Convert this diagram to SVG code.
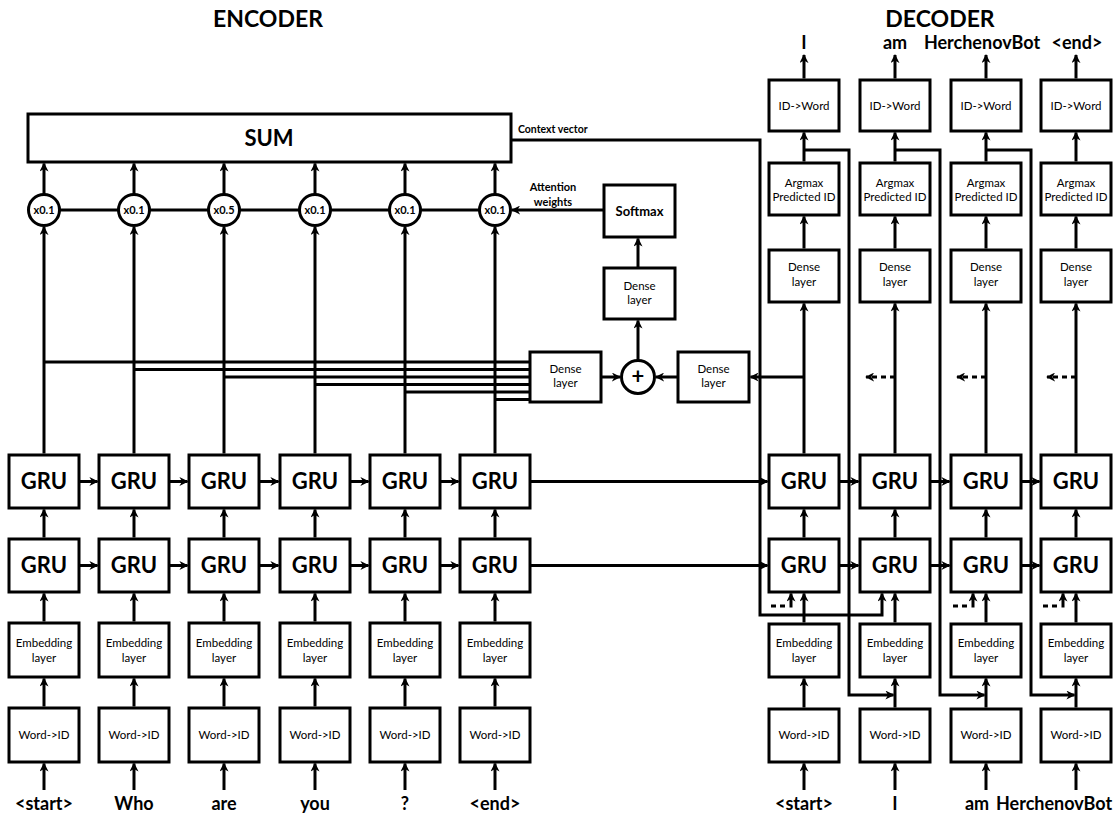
<svg xmlns="http://www.w3.org/2000/svg" width="1120" height="840" viewBox="0 0 1120 840">
<defs>
<marker id="ah" viewBox="0 0 10 10" refX="9" refY="5" markerWidth="9" markerHeight="9" markerUnits="userSpaceOnUse" orient="auto">
<path d="M0,0 L10,5 L0,10 L3,5 z" fill="#000"/>
</marker>
<style>
.b{fill:#fff;stroke:#000;stroke-width:3}
.c{fill:none;stroke:#000;stroke-width:3}
.a{fill:none;stroke:#000;stroke-width:3;marker-end:url(#ah)}
.d{fill:none;stroke:#000;stroke-width:3;stroke-dasharray:5 4}
.da{fill:none;stroke:#000;stroke-width:3;stroke-dasharray:5 4;marker-end:url(#ah)}
text{font-family:Lato,"Liberation Sans",sans-serif;fill:#000;text-anchor:middle}
.g{font-size:22px;font-weight:bold}
.s{font-size:11.5px}
.w{font-size:18px;font-weight:bold}
.t{font-size:23px;font-weight:bold}
.x{font-size:11px;font-weight:bold}
</style>
</defs>
<rect width="1120" height="840" fill="#fff"/>
<text class="t" x="268" y="27">ENCODER</text>
<text class="t" x="940" y="27">DECODER</text>

<g id="connectors">
<!-- attention lines -->
<path class="c" d="M44,362 H530 M134,369.5 H530 M224,377 H530 M315,384.5 H530 M405,392 H530 M495,399.5 H530"/>
<path class="c" d="M44,210 H495"/>
<!-- encoder verticals -->
<path class="a" d="M44,790 V763.5"/><path class="a" d="M134,790 V763.5"/><path class="a" d="M224,790 V763.5"/><path class="a" d="M315,790 V763.5"/><path class="a" d="M405,790 V763.5"/><path class="a" d="M495,790 V763.5"/>
<path class="a" d="M44,706.5 V678.5"/><path class="a" d="M134,706.5 V678.5"/><path class="a" d="M224,706.5 V678.5"/><path class="a" d="M315,706.5 V678.5"/><path class="a" d="M405,706.5 V678.5"/><path class="a" d="M495,706.5 V678.5"/>
<path class="a" d="M44,621.5 V593.5"/><path class="a" d="M134,621.5 V593.5"/><path class="a" d="M224,621.5 V593.5"/><path class="a" d="M315,621.5 V593.5"/><path class="a" d="M405,621.5 V593.5"/><path class="a" d="M495,621.5 V593.5"/>
<path class="a" d="M44,537.5 V509.5"/><path class="a" d="M134,537.5 V509.5"/><path class="a" d="M224,537.5 V509.5"/><path class="a" d="M315,537.5 V509.5"/><path class="a" d="M405,537.5 V509.5"/><path class="a" d="M495,537.5 V509.5"/>
<path class="a" d="M44,453.5 V227"/><path class="a" d="M134,453.5 V227"/><path class="a" d="M224,453.5 V227"/><path class="a" d="M315,453.5 V227"/><path class="a" d="M405,453.5 V227"/><path class="a" d="M495,453.5 V227"/>
<path class="a" d="M44,194 V163.5"/><path class="a" d="M134,194 V163.5"/><path class="a" d="M224,194 V163.5"/><path class="a" d="M315,194 V163.5"/><path class="a" d="M405,194 V163.5"/><path class="a" d="M495,194 V163.5"/>
<!-- encoder horizontals -->
<path class="a" d="M79,481.5 H97.5"/><path class="a" d="M169,481.5 H187.5"/><path class="a" d="M259,481.5 H278.5"/><path class="a" d="M350,481.5 H368.5"/><path class="a" d="M440,481.5 H458.5"/>
<path class="a" d="M79,565.5 H97.5"/><path class="a" d="M169,565.5 H187.5"/><path class="a" d="M259,565.5 H278.5"/><path class="a" d="M350,565.5 H368.5"/><path class="a" d="M440,565.5 H458.5"/>
<path class="a" d="M530,481.5 H767.5"/><path class="a" d="M530,565.5 H767.5"/>
<!-- decoder horizontals -->
<path class="a" d="M839,481.5 H858.5"/><path class="a" d="M930,481.5 H949.5"/><path class="a" d="M1021,481.5 H1039.5"/>
<path class="a" d="M839,565.5 H858.5"/><path class="a" d="M930,565.5 H949.5"/><path class="a" d="M1021,565.5 H1039.5"/>
<!-- attention block -->
<path class="a" d="M601,377 H620"/>
<path class="a" d="M678,377 H656"/>
<path class="a" d="M638,360 V320.5"/>
<path class="a" d="M638,268 V238.5"/>
<path class="a" d="M604,210 H512"/>
<path class="a" d="M804,377 H750.5"/>
<!-- context vector -->
<path class="a" d="M511,140 H760 V615 H882 V593.5"/>
<!-- decoder verticals -->
<path class="a" d="M804,78.5 V55"/><path class="a" d="M895,78.5 V55"/><path class="a" d="M986,78.5 V55"/><path class="a" d="M1076,78.5 V55"/>
<path class="a" d="M804,161.5 V132.5"/><path class="a" d="M895,161.5 V132.5"/><path class="a" d="M986,161.5 V132.5"/><path class="a" d="M1076,161.5 V132.5"/>
<path class="a" d="M804,248.5 V216.5"/><path class="a" d="M895,248.5 V216.5"/><path class="a" d="M986,248.5 V216.5"/><path class="a" d="M1076,248.5 V216.5"/>
<path class="a" d="M804,453.5 V303.5"/><path class="a" d="M895,453.5 V303.5"/><path class="a" d="M986,453.5 V303.5"/><path class="a" d="M1076,453.5 V303.5"/>
<path class="a" d="M804,537.5 V509.5"/><path class="a" d="M895,537.5 V509.5"/><path class="a" d="M986,537.5 V509.5"/><path class="a" d="M1076,537.5 V509.5"/>
<path class="a" d="M804,622.5 V593.5"/><path class="a" d="M895,622.5 V593.5"/><path class="a" d="M986,622.5 V593.5"/><path class="a" d="M1076,622.5 V593.5"/>
<path class="a" d="M804,707.5 V678.5"/><path class="a" d="M895,707.5 V678.5"/><path class="a" d="M986,707.5 V678.5"/><path class="a" d="M1076,707.5 V678.5"/>
<path class="a" d="M804,790 V763.5"/><path class="a" d="M895,790 V763.5"/><path class="a" d="M986,790 V763.5"/><path class="a" d="M1076,790 V763.5"/>
<!-- dashed attention continuations -->
<path class="da" d="M895,377 H866"/>
<path class="da" d="M986,377 H957"/>
<path class="da" d="M1076,377 H1047"/>
<!-- dashed context inputs -->
<path class="d" d="M771,606 H788 M953,606 H970 M1043,606 H1060"/>
<path class="a" d="M791,607.5 V593.5"/><path class="a" d="M973,607.5 V593.5"/><path class="a" d="M1063,607.5 V593.5"/>
<!-- feedback of predicted IDs -->
<path class="a" d="M804,150 H849 V695 H893.5"/>
<path class="a" d="M895,150 H940 V695 H984.5"/>
<path class="a" d="M986,150 H1031 V695 H1074.5"/>
</g>

<g id="sum"><rect class="b" x="28" y="114" width="483" height="48"/><text class="g" x="269" y="146">SUM</text></g>
<text class="x" x="518" y="133" style="text-anchor:start;font-size:10.5px">Context vector</text>
<text class="x" x="553" y="191">Attention</text>
<text class="x" x="553" y="206">weights</text>

<g id="w1"><circle class="b" cx="44" cy="210" r="15.5"/><text class="x" x="44" y="214">x0.1</text></g>
<g id="w2"><circle class="b" cx="134" cy="210" r="15.5"/><text class="x" x="134" y="214">x0.1</text></g>
<g id="w3"><circle class="b" cx="224" cy="210" r="15.5"/><text class="x" x="224" y="214">x0.5</text></g>
<g id="w4"><circle class="b" cx="315" cy="210" r="15.5"/><text class="x" x="315" y="214">x0.1</text></g>
<g id="w5"><circle class="b" cx="405" cy="210" r="15.5"/><text class="x" x="405" y="214">x0.1</text></g>
<g id="w6"><circle class="b" cx="495" cy="210" r="15.5"/><text class="x" x="495" y="214">x0.1</text></g>

<g id="softmax"><rect class="b" x="604" y="185" width="71" height="52"/><text x="639.5" y="216" style="font-size:13px;font-weight:bold">Softmax</text></g>
<g id="att-dense-top"><rect class="b" x="604" y="268" width="71" height="51"/><text class="s" x="639.5" y="290">Dense</text><text class="s" x="639.5" y="304">layer</text></g>
<g id="att-dense-enc"><rect class="b" x="530" y="352" width="71" height="50"/><text class="s" x="565.5" y="373">Dense</text><text class="s" x="565.5" y="387">layer</text></g>
<g id="att-plus"><circle class="b" cx="638" cy="377" r="16.5"/><text x="638" y="384" style="font-size:22px;font-weight:bold">+</text></g>
<g id="att-dense-dec"><rect class="b" x="678" y="352" width="71" height="50"/><text class="s" x="713.5" y="373">Dense</text><text class="s" x="713.5" y="387">layer</text></g>

<!-- encoder columns -->
<g id="enc1-gru2"><rect class="b" x="9" y="455" width="70" height="53"/><text class="g" x="44" y="489">GRU</text></g>
<g id="enc2-gru2"><rect class="b" x="99" y="455" width="70" height="53"/><text class="g" x="134" y="489">GRU</text></g>
<g id="enc3-gru2"><rect class="b" x="189" y="455" width="70" height="53"/><text class="g" x="224" y="489">GRU</text></g>
<g id="enc4-gru2"><rect class="b" x="280" y="455" width="70" height="53"/><text class="g" x="315" y="489">GRU</text></g>
<g id="enc5-gru2"><rect class="b" x="370" y="455" width="70" height="53"/><text class="g" x="405" y="489">GRU</text></g>
<g id="enc6-gru2"><rect class="b" x="460" y="455" width="70" height="53"/><text class="g" x="495" y="489">GRU</text></g>

<g id="enc1-gru1"><rect class="b" x="9" y="539" width="70" height="53"/><text class="g" x="44" y="573">GRU</text></g>
<g id="enc2-gru1"><rect class="b" x="99" y="539" width="70" height="53"/><text class="g" x="134" y="573">GRU</text></g>
<g id="enc3-gru1"><rect class="b" x="189" y="539" width="70" height="53"/><text class="g" x="224" y="573">GRU</text></g>
<g id="enc4-gru1"><rect class="b" x="280" y="539" width="70" height="53"/><text class="g" x="315" y="573">GRU</text></g>
<g id="enc5-gru1"><rect class="b" x="370" y="539" width="70" height="53"/><text class="g" x="405" y="573">GRU</text></g>
<g id="enc6-gru1"><rect class="b" x="460" y="539" width="70" height="53"/><text class="g" x="495" y="573">GRU</text></g>

<g id="enc1-emb"><rect class="b" x="9" y="623" width="70" height="54"/><text class="s" x="44" y="647">Embedding</text><text class="s" x="44" y="662">layer</text></g>
<g id="enc2-emb"><rect class="b" x="99" y="623" width="70" height="54"/><text class="s" x="134" y="647">Embedding</text><text class="s" x="134" y="662">layer</text></g>
<g id="enc3-emb"><rect class="b" x="189" y="623" width="70" height="54"/><text class="s" x="224" y="647">Embedding</text><text class="s" x="224" y="662">layer</text></g>
<g id="enc4-emb"><rect class="b" x="280" y="623" width="70" height="54"/><text class="s" x="315" y="647">Embedding</text><text class="s" x="315" y="662">layer</text></g>
<g id="enc5-emb"><rect class="b" x="370" y="623" width="70" height="54"/><text class="s" x="405" y="647">Embedding</text><text class="s" x="405" y="662">layer</text></g>
<g id="enc6-emb"><rect class="b" x="460" y="623" width="70" height="54"/><text class="s" x="495" y="647">Embedding</text><text class="s" x="495" y="662">layer</text></g>

<g id="enc1-w2id"><rect class="b" x="9" y="708" width="70" height="54"/><text class="s" x="44" y="739">Word-&gt;ID</text></g>
<g id="enc2-w2id"><rect class="b" x="99" y="708" width="70" height="54"/><text class="s" x="134" y="739">Word-&gt;ID</text></g>
<g id="enc3-w2id"><rect class="b" x="189" y="708" width="70" height="54"/><text class="s" x="224" y="739">Word-&gt;ID</text></g>
<g id="enc4-w2id"><rect class="b" x="280" y="708" width="70" height="54"/><text class="s" x="315" y="739">Word-&gt;ID</text></g>
<g id="enc5-w2id"><rect class="b" x="370" y="708" width="70" height="54"/><text class="s" x="405" y="739">Word-&gt;ID</text></g>
<g id="enc6-w2id"><rect class="b" x="460" y="708" width="70" height="54"/><text class="s" x="495" y="739">Word-&gt;ID</text></g>

<g id="enc-words">
<text class="w" x="44" y="810">&lt;start&gt;</text>
<text class="w" x="134" y="810">Who</text>
<text class="w" x="224" y="810">are</text>
<text class="w" x="315" y="810">you</text>
<text class="w" x="405" y="810">?</text>
<text class="w" x="495" y="810">&lt;end&gt;</text>
</g>

<!-- decoder columns -->
<g id="dec1-id2w"><rect class="b" x="769" y="80" width="70" height="51"/><text class="s" x="804" y="110">ID-&gt;Word</text></g>
<g id="dec2-id2w"><rect class="b" x="860" y="80" width="70" height="51"/><text class="s" x="895" y="110">ID-&gt;Word</text></g>
<g id="dec3-id2w"><rect class="b" x="951" y="80" width="70" height="51"/><text class="s" x="986" y="110">ID-&gt;Word</text></g>
<g id="dec4-id2w"><rect class="b" x="1041" y="80" width="70" height="51"/><text class="s" x="1076" y="110">ID-&gt;Word</text></g>

<g id="dec1-argmax"><rect class="b" x="769" y="163" width="70" height="52"/><text class="s" x="804" y="187">Argmax</text><text class="s" x="804" y="201">Predicted ID</text></g>
<g id="dec2-argmax"><rect class="b" x="860" y="163" width="70" height="52"/><text class="s" x="895" y="187">Argmax</text><text class="s" x="895" y="201">Predicted ID</text></g>
<g id="dec3-argmax"><rect class="b" x="951" y="163" width="70" height="52"/><text class="s" x="986" y="187">Argmax</text><text class="s" x="986" y="201">Predicted ID</text></g>
<g id="dec4-argmax"><rect class="b" x="1041" y="163" width="70" height="52"/><text class="s" x="1076" y="187">Argmax</text><text class="s" x="1076" y="201">Predicted ID</text></g>

<g id="dec1-dense"><rect class="b" x="769" y="250" width="70" height="52"/><text class="s" x="804" y="271">Dense</text><text class="s" x="804" y="286">layer</text></g>
<g id="dec2-dense"><rect class="b" x="860" y="250" width="70" height="52"/><text class="s" x="895" y="271">Dense</text><text class="s" x="895" y="286">layer</text></g>
<g id="dec3-dense"><rect class="b" x="951" y="250" width="70" height="52"/><text class="s" x="986" y="271">Dense</text><text class="s" x="986" y="286">layer</text></g>
<g id="dec4-dense"><rect class="b" x="1041" y="250" width="70" height="52"/><text class="s" x="1076" y="271">Dense</text><text class="s" x="1076" y="286">layer</text></g>

<g id="dec1-gru2"><rect class="b" x="769" y="455" width="70" height="53"/><text class="g" x="804" y="489">GRU</text></g>
<g id="dec2-gru2"><rect class="b" x="860" y="455" width="70" height="53"/><text class="g" x="895" y="489">GRU</text></g>
<g id="dec3-gru2"><rect class="b" x="951" y="455" width="70" height="53"/><text class="g" x="986" y="489">GRU</text></g>
<g id="dec4-gru2"><rect class="b" x="1041" y="455" width="70" height="53"/><text class="g" x="1076" y="489">GRU</text></g>

<g id="dec1-gru1"><rect class="b" x="769" y="539" width="70" height="53"/><text class="g" x="804" y="573">GRU</text></g>
<g id="dec2-gru1"><rect class="b" x="860" y="539" width="70" height="53"/><text class="g" x="895" y="573">GRU</text></g>
<g id="dec3-gru1"><rect class="b" x="951" y="539" width="70" height="53"/><text class="g" x="986" y="573">GRU</text></g>
<g id="dec4-gru1"><rect class="b" x="1041" y="539" width="70" height="53"/><text class="g" x="1076" y="573">GRU</text></g>

<g id="dec1-emb"><rect class="b" x="769" y="624" width="70" height="53"/><text class="s" x="804" y="647">Embedding</text><text class="s" x="804" y="662">layer</text></g>
<g id="dec2-emb"><rect class="b" x="860" y="624" width="70" height="53"/><text class="s" x="895" y="647">Embedding</text><text class="s" x="895" y="662">layer</text></g>
<g id="dec3-emb"><rect class="b" x="951" y="624" width="70" height="53"/><text class="s" x="986" y="647">Embedding</text><text class="s" x="986" y="662">layer</text></g>
<g id="dec4-emb"><rect class="b" x="1041" y="624" width="70" height="53"/><text class="s" x="1076" y="647">Embedding</text><text class="s" x="1076" y="662">layer</text></g>

<g id="dec1-w2id"><rect class="b" x="769" y="709" width="70" height="53"/><text class="s" x="804" y="739">Word-&gt;ID</text></g>
<g id="dec2-w2id"><rect class="b" x="860" y="709" width="70" height="53"/><text class="s" x="895" y="739">Word-&gt;ID</text></g>
<g id="dec3-w2id"><rect class="b" x="951" y="709" width="70" height="53"/><text class="s" x="986" y="739">Word-&gt;ID</text></g>
<g id="dec4-w2id"><rect class="b" x="1041" y="709" width="70" height="53"/><text class="s" x="1076" y="739">Word-&gt;ID</text></g>

<g id="dec-outputs">
<text class="w" x="804" y="49">I</text>
<text class="w" x="895" y="49">am</text>
<text class="w" x="982" y="49">HerchenovBot</text>
<text class="w" x="1077" y="49">&lt;end&gt;</text>
</g>
<g id="dec-inputs">
<text class="w" x="804" y="810">&lt;start&gt;</text>
<text class="w" x="895" y="810">I</text>
<text class="w" x="977" y="810">am</text>
<text class="w" x="996" y="810" style="text-anchor:start">HerchenovBot</text>
</g>
</svg>
